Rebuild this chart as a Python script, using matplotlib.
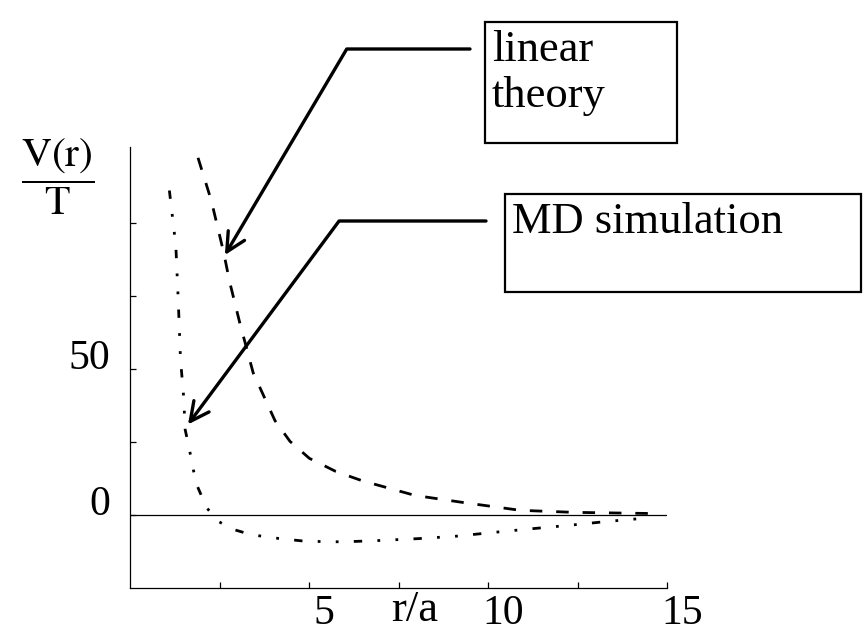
import numpy as np
import matplotlib
matplotlib.use("Agg")
import matplotlib.pyplot as plt
from matplotlib.patches import Rectangle
from matplotlib.ticker import FixedLocator
import matplotlib.transforms as mtransforms

plt.rcParams['font.family'] = ['Liberation Serif', 'DejaVu Serif']
plt.rcParams['mathtext.fontset'] = 'stix'

# interaction potential V(r)/T against r/a
r_linear = [1.90, 2.27, 2.62, 2.78, 3.06, 3.44, 4.05, 4.47, 5.01, 5.75, 6.49,
            7.96, 9.35, 10.9, 12.4, 13.5, 14.6]
v_linear = [122.3, 107.7, 89.7, 80.0, 66.1, 48.7, 32.3, 25.2, 19.4, 14.9, 11.7,
            6.7, 4.2, 1.6, 0.9, 0.7, 0.5]

r_md = [1.10, 1.28, 1.35, 1.41, 1.50, 1.54, 1.66, 1.77, 1.89, 2.14, 2.46, 2.82,
        3.37, 3.98, 4.90, 5.94, 6.86, 8.04, 9.08, 10.21, 11.23, 12.21, 13.34, 14.38]
v_md = [111.1, 92.2, 72.9, 53.4, 40.3, 29.3, 22.4, 15.4, 9.6, 2.5, -2.1, -4.7,
        -6.7, -7.8, -9.0, -9.2, -8.8, -8.1, -7.3, -5.9, -4.7, -3.6, -2.2, -1.1]

x_major = [5, 10, 15]
x_minor = [2.5, 7.5, 12.5]
y_major = [0, 50]
y_minor = [25, 75, 100]

# where the two call-out arrows point (data units)
tip_linear = (2.65, 89.0)
tip_md = (1.62, 31.0)

W, H = 864, 632
fig = plt.figure(figsize=(W / 100, H / 100), dpi=100)
ax = fig.add_axes([130 / W, 1 - 588 / H, 537 / W, 441 / H])

ax.plot(r_linear, v_linear, color='black', lw=2.0, linestyle=(0, (4.5, 5)))
ax.plot(r_md, v_md, color='black', lw=2.0, linestyle=(0, (3, 5.5, 1, 5.5, 1, 5.5)))
ax.axhline(0, color='black', lw=0.9)

ax.set_xlim(0, 15)
ax.set_ylim(-25, 126)
for side in ('top', 'right'):
    ax.spines[side].set_visible(False)
for side in ('left', 'bottom'):
    ax.spines[side].set_linewidth(0.9)

ax.xaxis.set_major_locator(FixedLocator(x_major))
ax.xaxis.set_minor_locator(FixedLocator(x_minor))
ax.yaxis.set_major_locator(FixedLocator(y_major))
ax.yaxis.set_minor_locator(FixedLocator(y_minor))
ax.set_xticklabels([str(v) for v in x_major])
ax.set_yticklabels([str(v) for v in y_major])
ax.tick_params(which='both', direction='in', length=4.5, width=0.9)
ax.tick_params(axis='x', labelsize=30, pad=5)
ax.tick_params(axis='y', labelsize=30, pad=14)

# nudge the numbers a little, as they sit on the printed figure
shift_x = mtransforms.ScaledTranslation(0.15, 0, fig.dpi_scale_trans)
for lbl in ax.get_xticklabels():
    lbl.set_transform(lbl.get_transform() + shift_x)
shift_y = mtransforms.ScaledTranslation(0, 0.15, fig.dpi_scale_trans)
for lbl in ax.get_yticklabels():
    lbl.set_transform(lbl.get_transform() + shift_y)

ax.set_xlabel('r/a', fontsize=32)
ax.xaxis.set_label_coords(0.53, -0.005)
ax.set_ylabel(r'$\dfrac{\mathrm{V(r)}}{\mathrm{T}}$', fontsize=30,
              rotation=0, ha='center', va='center')
ax.yaxis.set_label_coords(-0.135, 0.932)


def px(x, y):
    return x / W, 1 - y / H


# labelled boxes
fig.add_artist(Rectangle(px(485, 143), 192 / W, 121 / H, transform=fig.transFigure,
                         fill=False, lw=1.6, color='black'))
fig.text(*px(492, 30), 'linear\ntheory', fontsize=32, va='top', ha='left',
         linespacing=1.2)
fig.add_artist(Rectangle(px(505, 292), 356 / W, 98 / H, transform=fig.transFigure,
                         fill=False, lw=1.6, color='black'))
fig.text(*px(512, 233), 'MD simulation', fontsize=32, va='baseline', ha='left')

# bent arrows from the boxes to the curves
ax.annotate('', xy=tip_linear, xycoords='data',
            xytext=(470, H - 49), textcoords='figure pixels',
            arrowprops=dict(arrowstyle='->', color='black', lw=2.4,
                            connectionstyle='angle,angleA=0,angleB=59.4,rad=0',
                            shrinkA=0, shrinkB=0, mutation_scale=34))
ax.annotate('', xy=tip_md, xycoords='data',
            xytext=(486, H - 221), textcoords='figure pixels',
            arrowprops=dict(arrowstyle='->', color='black', lw=2.4,
                            connectionstyle='angle,angleA=0,angleB=53.4,rad=0',
                            shrinkA=0, shrinkB=0, mutation_scale=34))

fig.savefig('out.png', dpi=100)
